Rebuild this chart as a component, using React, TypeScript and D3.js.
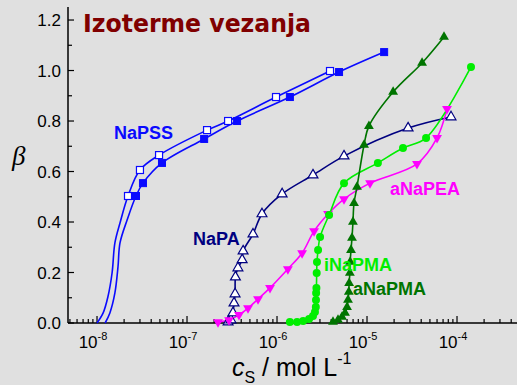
import React from 'react'
import * as d3 from 'd3'

const W = 517
const H = 385

// NaPSS, open squares
const napssOpen: [number, number][] = [
  [2.21e-8, 0.503], [3.0e-8, 0.606], [4.89e-8, 0.665], [1.67e-7, 0.764],
  [2.86e-7, 0.8], [9.75e-7, 0.895], [3.88e-6, 0.998],
]
const napssOpenTail: [number, number][] = [
  [1.0e-8, 0], [1.17e-8, 0.04], [1.32e-8, 0.103], [1.47e-8, 0.198], [1.58e-8, 0.317], [1.8e-8, 0.396],
]
// NaPSS, filled squares
const napssFilled: [number, number][] = [
  [2.71e-8, 0.503], [3.24e-8, 0.554], [5.27e-8, 0.634], [1.55e-7, 0.729],
  [3.6e-7, 0.8], [1.39e-6, 0.895], [4.89e-6, 0.994], [1.55e-5, 1.073],
]
const napssFilledTail: [number, number][] = [
  [1.23e-8, 0], [1.39e-8, 0.04], [1.58e-8, 0.119], [1.71e-8, 0.222], [1.8e-8, 0.317], [2.16e-8, 0.408],
]
// NaPA, open triangles
const napa: [number, number][] = [
  [2.86e-7, 0.004], [3.08e-7, 0.012], [3.24e-7, 0.04], [3.33e-7, 0.079], [3.42e-7, 0.115],
  [3.45e-7, 0.182], [3.68e-7, 0.218], [4.1e-7, 0.25], [4.2e-7, 0.285], [5.41e-7, 0.352],
  [6.81e-7, 0.432], [1.14e-6, 0.511], [2.51e-6, 0.586], [5.55e-6, 0.661], [2.86e-5, 0.772], [8.58e-5, 0.816],
]
// aNaPEA, down triangles
const anapea: [number, number][] = [
  [2.21e-7, 0.004], [2.93e-7, 0.012], [3.78e-7, 0.032], [4.76e-7, 0.059], [6.15e-7, 0.095],
  [8.36e-7, 0.139], [1.32e-6, 0.214], [1.9e-6, 0.277], [2.58e-6, 0.364], [3.69e-6, 0.432],
  [5.55e-6, 0.491], [1.08e-5, 0.554], [3.59e-5, 0.63], [6.0e-5, 0.733], [7.74e-5, 0.848],
]
// iNaPMA, circles
const inapma: [number, number][] = [
  [1.39e-6, 0.004], [1.67e-6, 0.004], [1.95e-6, 0.008], [2.27e-6, 0.016], [2.51e-6, 0.028],
  [2.64e-6, 0.044], [2.7e-6, 0.063], [2.71e-6, 0.091], [2.72e-6, 0.119], [2.74e-6, 0.139],
  [2.76e-6, 0.198], [2.78e-6, 0.242], [2.86e-6, 0.289], [3.01e-6, 0.341], [3.79e-6, 0.428],
  [5.55e-6, 0.554], [1.32e-5, 0.634], [2.51e-5, 0.693], [4.53e-5, 0.733], [1.43e-4, 1.014],
]
// aNaPMA, up triangles
const anapma: [number, number][] = [
  [4.19e-6, 0.004], [4.76e-6, 0.012], [5.27e-6, 0.024], [5.7e-6, 0.04], [6.0e-6, 0.063],
  [6.15e-6, 0.091], [6.28e-6, 0.123], [6.33e-6, 0.158], [6.45e-6, 0.198], [6.5e-6, 0.242],
  [6.64e-6, 0.289], [6.81e-6, 0.337], [6.98e-6, 0.4], [7.17e-6, 0.475], [7.74e-6, 0.539],
  [9.27e-6, 0.705], [1.05e-5, 0.78], [1.95e-5, 0.915], [4.09e-5, 1.03], [7.17e-5, 1.133],
]

const yTicks = [0, 0.2, 0.4, 0.6, 0.8, 1.0, 1.2]
const yMinor = [0.1, 0.3, 0.5, 0.7, 0.9, 1.1]
const xExps = [-8, -7, -6, -5, -4]

const BLUE = '#0a0aff'
const NAVY = '#000080'
const MAGENTA = '#ff00ff'
const LIME = '#00ee00'
const DKGREEN = '#007400'

export default function App() {
  const x = d3.scaleLog().domain([4.76e-9, 4.64e-4]).range([68, 517])
  const y = d3.scaleLinear().domain([0, 1.25]).range([323, 7.4])

  const line = d3.line<[number, number]>()
    .x(d => x(d[0]))
    .y(d => y(d[1]))
    .curve(d3.curveCatmullRom.alpha(0.5))

  const xMinor: number[] = []
  for (let e = -9; e <= -4; e++) {
    for (let k = 2; k <= 9; k++) {
      const v = k * Math.pow(10, e)
      if (v > 4.76e-9 && v < 4.64e-4) xMinor.push(v)
    }
  }

  const tri = d3.symbol().type(d3.symbolTriangle).size(42)()
  const font = 'Liberation Sans, Arial, sans-serif'

  return (
    <svg width={W} height={H} style={{ position: 'absolute', left: 0, top: 0 }} fontFamily={font}>
      <rect width={W} height={H} fill="#e0e0e0" />

      {/* axes */}
      <line x1={68} x2={68} y1={7} y2={323} stroke="#000" strokeWidth={1.5} />
      <line x1={68} x2={517} y1={323} y2={323} stroke="#000" strokeWidth={1.5} />
      {yTicks.map(t => (
        <g key={'y' + t}>
          <line x1={68} x2={74} y1={y(t)} y2={y(t)} stroke="#000" strokeWidth={1.2} />
          <text x={61} y={y(t) + 6} textAnchor="end" fontSize={17}>{t.toFixed(1)}</text>
        </g>
      ))}
      {yMinor.map(t => (
        <line key={'ym' + t} x1={68} x2={72} y1={y(t)} y2={y(t)} stroke="#000" strokeWidth={1.2} />
      ))}
      {xExps.map(e => (
        <g key={'x' + e}>
          <line x1={x(Math.pow(10, e))} x2={x(Math.pow(10, e))} y1={323} y2={316} stroke="#000" strokeWidth={1.2} />
          <text x={x(Math.pow(10, e)) - 4} y={348} textAnchor="middle" fontSize={17}>
            10<tspan dy={-8} fontSize={11}>{'-' + Math.abs(e)}</tspan>
          </text>
        </g>
      ))}
      {xMinor.map(v => (
        <line key={'xm' + v} x1={x(v)} x2={x(v)} y1={323} y2={319} stroke="#000" strokeWidth={1.2} />
      ))}

      {/* title */}
      <text x={83} y={32} fontFamily="Comic Sans MS, DejaVu Sans, sans-serif" fontWeight="bold" fontSize={24}
        fill="#800000" textLength={228} lengthAdjust="spacingAndGlyphs">Izoterme vezanja</text>

      {/* axis titles */}
      <text x={12} y={165} fontFamily="Liberation Serif, DejaVu Serif, serif" fontStyle="italic" fontSize={27}>β</text>
      <text x={232} y={376} fontSize={25}>
        <tspan fontStyle="italic">c</tspan>
        <tspan fontSize={16} dy={7}>S</tspan>
        <tspan dy={-7}> / mol L</tspan>
        <tspan fontSize={16} dy={-12}>-1</tspan>
      </text>

      {/* curves */}
      <path d={line([...napssOpenTail, ...napssOpen]) ?? ''} fill="none" stroke={BLUE} strokeWidth={1.6} />
      <path d={line([...napssFilledTail, ...napssFilled]) ?? ''} fill="none" stroke={BLUE} strokeWidth={1.6} />
      <path d={line(napa) ?? ''} fill="none" stroke={NAVY} strokeWidth={1.6} />
      <path d={line(anapea) ?? ''} fill="none" stroke={MAGENTA} strokeWidth={1.6} />
      <path d={line(inapma) ?? ''} fill="none" stroke={LIME} strokeWidth={1.6} />
      <path d={line(anapma) ?? ''} fill="none" stroke={DKGREEN} strokeWidth={1.6} />

      {/* markers */}
      {napssOpen.map((d, i) => (
        <rect key={'so' + i} x={x(d[0]) - 3.5} y={y(d[1]) - 3.5} width={7} height={7} fill="#fff" stroke={BLUE} strokeWidth={1.2} />
      ))}
      {napssFilled.map((d, i) => (
        <rect key={'sf' + i} x={x(d[0]) - 3.5} y={y(d[1]) - 3.5} width={7} height={7} fill={BLUE} stroke={BLUE} strokeWidth={1} />
      ))}
      {napa.map((d, i) => (
        <path key={'na' + i} d={tri ?? ''} transform={`translate(${x(d[0])},${y(d[1])})`} fill="#fff" stroke={NAVY} strokeWidth={1.2} />
      ))}
      {anapea.map((d, i) => (
        <path key={'pe' + i} d={tri ?? ''} transform={`translate(${x(d[0])},${y(d[1])}) rotate(180)`} fill={MAGENTA} />
      ))}
      {inapma.map((d, i) => (
        <circle key={'in' + i} cx={x(d[0])} cy={y(d[1])} r={4} fill={LIME} />
      ))}
      {anapma.map((d, i) => (
        <path key={'am' + i} d={tri ?? ''} transform={`translate(${x(d[0])},${y(d[1])})`} fill={DKGREEN} />
      ))}

      {/* series labels */}
      <g fontWeight="bold" fontSize={18}>
        <text x={114} y={139} fill={BLUE}>NaPSS</text>
        <text x={193} y={245} fill={NAVY}>NaPA</text>
        <text x={390} y={195} fill={MAGENTA}>aNaPEA</text>
        <text x={324} y={271} fill={LIME}>iNaPMA</text>
        <text x={353} y={295} fill={DKGREEN}>aNaPMA</text>
      </g>
    </svg>
  )
}
